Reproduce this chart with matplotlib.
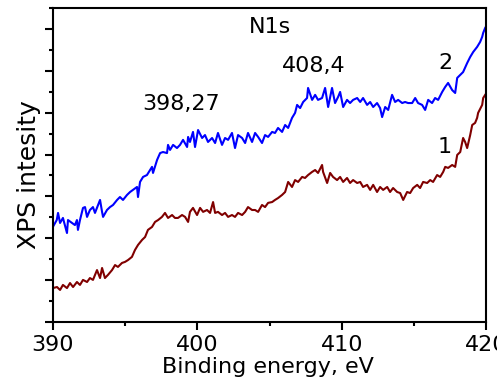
import numpy as np
import matplotlib.pyplot as plt
from matplotlib.ticker import MultipleLocator, NullFormatter

plt.rcParams['font.family'] = ['DejaVu Sans']

# curve 2 (blue): binding energy (eV) and intensity (arb. units)
e_blue = [390.00, 390.26, 390.35, 390.49, 390.69, 390.97, 391.04, 391.32, 391.52, 391.66,
          391.73, 391.87, 392.08, 392.22, 392.36, 392.56, 392.77, 392.91, 393.12, 393.26,
          393.40, 393.47, 393.74, 393.95, 394.16, 394.44, 394.64, 394.85, 395.13, 395.34,
          395.54, 395.82, 395.89, 396.03, 396.24, 396.51, 396.72, 396.86, 396.93, 397.21,
          397.42, 397.62, 397.90, 397.97, 398.11, 398.32, 398.59, 398.80, 399.01, 399.29,
          399.36, 399.49, 399.70, 399.84, 400.05, 400.33, 400.53, 400.74, 401.02, 401.23,
          401.43, 401.71, 401.92, 402.13, 402.40, 402.61, 402.82, 403.10, 403.31, 403.51,
          403.79, 404.00, 404.21, 404.48, 404.69, 404.90, 405.18, 405.38, 405.59, 405.87,
          406.08, 406.29, 406.56, 406.77, 406.91, 407.12, 407.33, 407.60, 407.67, 407.95,
          408.16, 408.36, 408.64, 408.85, 409.06, 409.33, 409.54, 409.75, 409.89, 410.10,
          410.37, 410.58, 410.79, 411.07, 411.28, 411.48, 411.76, 411.97, 412.18, 412.45,
          412.66, 412.80, 413.01, 413.22, 413.49, 413.70, 413.91, 414.19, 414.39, 414.60,
          414.88, 415.09, 415.29, 415.57, 415.78, 415.99, 416.26, 416.47, 416.68, 416.96,
          417.17, 417.37, 417.65, 417.86, 418.00, 418.21, 418.41, 418.69, 418.90, 419.11,
          419.38, 419.59, 419.73, 419.80, 419.94]
i_blue = [4.55, 4.87, 5.21, 4.73, 4.97, 4.25, 4.87, 4.73, 4.63, 4.87,
          4.40, 4.87, 5.45, 5.49, 5.02, 5.35, 5.49, 5.21, 5.59, 5.83,
          5.26, 5.02, 5.35, 5.49, 5.59, 5.83, 5.97, 5.83, 6.07, 6.21,
          6.31, 6.45, 5.97, 6.69, 6.93, 7.02, 7.26, 7.41, 7.12, 7.74,
          8.07, 8.12, 8.07, 8.46, 8.22, 8.46, 8.31, 8.46, 8.70, 8.36,
          8.84, 8.60, 9.08, 8.36, 9.17, 8.79, 8.93, 8.60, 8.79, 8.55,
          9.03, 8.46, 8.79, 8.70, 9.03, 8.31, 8.93, 8.79, 8.55, 9.03,
          8.60, 9.03, 8.84, 8.55, 8.93, 8.84, 9.08, 9.03, 9.27, 9.08,
          9.41, 9.27, 9.75, 9.99, 10.37, 10.22, 10.51, 10.70, 11.18, 10.61,
          10.85, 10.61, 10.70, 11.18, 10.27, 11.18, 10.46, 10.75, 10.99, 10.27,
          10.61, 10.46, 10.61, 10.70, 10.51, 10.70, 10.37, 10.51, 10.27, 10.46,
          10.22, 9.79, 10.27, 10.13, 10.85, 10.51, 10.61, 10.46, 10.51, 10.46,
          10.46, 10.70, 10.46, 10.37, 10.13, 10.61, 10.46, 10.70, 10.61, 10.99,
          11.23, 11.42, 11.08, 10.94, 11.66, 11.80, 11.94, 12.37, 12.66, 12.90,
          13.14, 13.38, 13.62, 13.81, 14.05]

# curve 1 (dark red)
e_red = [390.00, 390.28, 390.49, 390.69, 390.97, 391.18, 391.39, 391.66, 391.87, 392.08,
         392.36, 392.56, 392.77, 393.05, 393.26, 393.40, 393.60, 393.81, 394.09, 394.30,
         394.50, 394.78, 394.99, 395.20, 395.47, 395.68, 395.89, 396.17, 396.38, 396.58,
         396.86, 397.07, 397.28, 397.55, 397.76, 397.97, 398.25, 398.45, 398.66, 398.94,
         399.15, 399.36, 399.49, 399.70, 399.98, 400.19, 400.40, 400.67, 400.88, 401.09,
         401.23, 401.43, 401.71, 401.92, 402.13, 402.40, 402.61, 402.82, 403.10, 403.31,
         403.51, 403.79, 404.00, 404.21, 404.48, 404.69, 404.90, 405.18, 405.38, 405.59,
         405.87, 406.08, 406.29, 406.56, 406.77, 406.98, 407.26, 407.46, 407.67, 407.95,
         408.16, 408.36, 408.64, 408.71, 408.99, 409.20, 409.40, 409.68, 409.89, 410.10,
         410.37, 410.58, 410.79, 411.07, 411.28, 411.48, 411.76, 411.97, 412.18, 412.45,
         412.66, 412.87, 413.15, 413.35, 413.56, 413.84, 414.05, 414.26, 414.53, 414.74,
         414.95, 415.23, 415.43, 415.64, 415.92, 416.13, 416.33, 416.61, 416.82, 417.03,
         417.17, 417.37, 417.65, 417.86, 418.00, 418.21, 418.41, 418.55, 418.69, 418.90,
         419.04, 419.24, 419.38, 419.45, 419.73, 419.80, 419.94]
i_red = [1.62, 1.67, 1.53, 1.77, 1.62, 1.86, 1.67, 1.91, 1.77, 2.01,
         1.91, 2.10, 2.01, 2.48, 2.10, 2.58, 2.10, 2.25, 2.48, 2.72,
         2.63, 2.82, 2.87, 2.96, 3.11, 3.44, 3.68, 3.92, 4.06, 4.40,
         4.54, 4.78, 4.87, 5.02, 5.21, 4.97, 5.11, 4.97, 4.97, 5.11,
         5.02, 4.78, 5.26, 5.45, 5.11, 5.45, 5.26, 5.35, 5.21, 5.73,
         5.21, 5.26, 5.11, 5.21, 5.02, 5.11, 5.02, 5.21, 5.11, 5.26,
         5.49, 5.35, 5.35, 5.26, 5.59, 5.49, 5.69, 5.73, 5.83, 5.92,
         6.07, 6.21, 6.69, 6.45, 6.78, 6.69, 6.93, 6.88, 7.02, 7.17,
         7.26, 7.12, 7.50, 7.17, 6.64, 7.12, 6.93, 6.78, 6.93, 6.69,
         6.88, 6.64, 6.78, 6.64, 6.69, 6.45, 6.55, 6.31, 6.55, 6.21,
         6.45, 6.31, 6.45, 6.21, 6.40, 6.21, 6.16, 5.83, 6.21, 6.16,
         6.40, 6.55, 6.40, 6.69, 6.64, 6.78, 6.69, 7.02, 6.93, 7.17,
         7.41, 7.36, 7.50, 7.41, 7.98, 8.12, 8.79, 8.60, 8.31, 8.93,
         9.41, 9.51, 9.75, 9.99, 10.37, 10.70, 10.85]

x_ticks = [390, 400, 410, 420]
x_labels = ['390', '400', '410', '420']

fig = plt.figure(figsize=(4.97, 3.81), dpi=100)
ax = fig.add_axes([0.1066, 0.1549, 0.8714, 0.8241])

ax.plot(e_blue, i_blue, color='#0000ff', lw=1.5)
ax.plot(e_red, i_red, color='#800000', lw=1.5)

ax.set_xlim(390, 420)
ax.set_ylim(0, 15)
ax.set_xticks(x_ticks)
ax.set_xticklabels(x_labels)
ax.xaxis.set_minor_locator(MultipleLocator(5))
ax.yaxis.set_major_locator(MultipleLocator(2))
ax.yaxis.set_minor_locator(MultipleLocator(1))
ax.yaxis.set_major_formatter(NullFormatter())

for s in ax.spines.values():
    s.set_linewidth(1.5)
ax.tick_params(which='major', length=5.5, width=1.5, labelsize=16, pad=4)
ax.tick_params(which='minor', length=3, width=1.5)

ax.set_xlabel('Binding energy, eV', fontsize=16)
ax.xaxis.set_label_coords(0.496, -0.11)
ax.set_ylabel('XPS intesity', fontsize=18)
ax.yaxis.set_label_coords(-0.028, 0.47)

ax.text(405.04, 13.8, 'N1s', fontsize=16, ha='center', va='baseline')
ax.text(398.84, 10.13, '398,27', fontsize=16, ha='center', va='baseline')
ax.text(408.05, 11.94, '408,4', fontsize=16, ha='center', va='baseline')
ax.text(417.17, 12.09, '2', fontsize=16, ha='center', va='baseline')
ax.text(417.1, 8.07, '1', fontsize=16, ha='center', va='baseline')

plt.savefig('out.png', dpi=100)
